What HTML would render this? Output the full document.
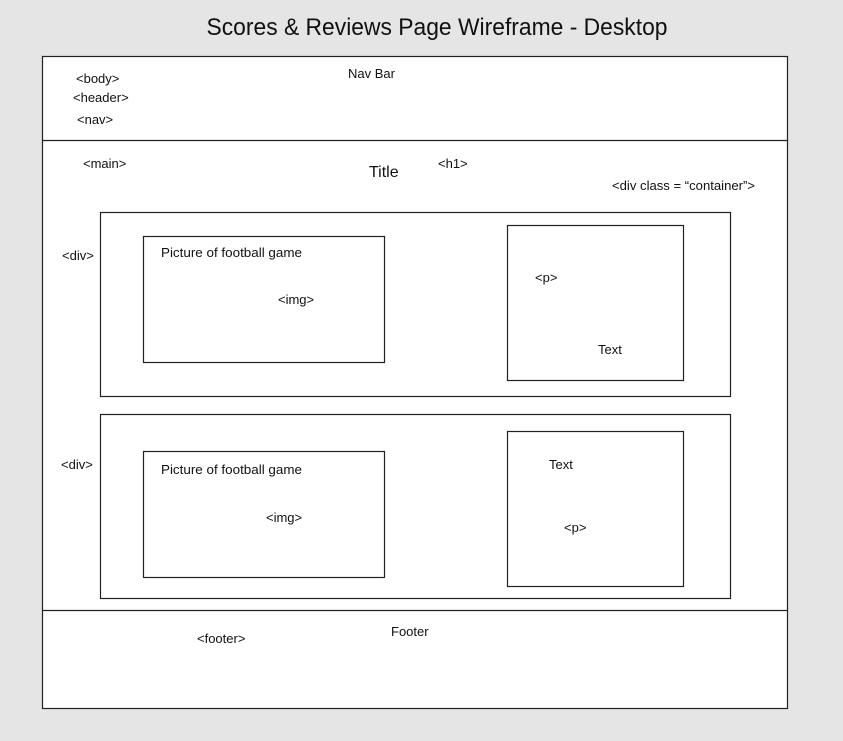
<!DOCTYPE html>
<html><head><meta charset="utf-8"><style>
html,body{margin:0;padding:0;background:#e5e5e5;}
svg{display:block;}
text{font-family:"Liberation Sans",Arial,sans-serif;fill:#111;}
</style></head><body>
<svg width="843" height="741" viewBox="0 0 843 741" xmlns="http://www.w3.org/2000/svg">
<rect x="0" y="0" width="843" height="741" fill="#e5e5e5"/>
<text x="437" y="35" font-size="24" text-anchor="middle" textLength="461" lengthAdjust="spacingAndGlyphs">Scores &amp; Reviews Page Wireframe - Desktop</text>
<rect x="42.5" y="56.5" width="745" height="652" fill="#fff" stroke="#222" stroke-width="1.2"/>
<line x1="42" y1="140.5" x2="788" y2="140.5" stroke="#222" stroke-width="1.2"/>
<line x1="42" y1="610.5" x2="788" y2="610.5" stroke="#222" stroke-width="1.2"/>
<g fill="none" stroke="#222" stroke-width="1.2">
<rect x="100.5" y="212.5" width="630" height="184"/>
<rect x="143.5" y="236.5" width="241" height="126"/>
<rect x="507.5" y="225.5" width="176" height="155"/>
<rect x="100.5" y="414.5" width="630" height="184"/>
<rect x="143.5" y="451.5" width="241" height="126"/>
<rect x="507.5" y="431.5" width="176" height="155"/>
</g>
<g font-size="13">
<text x="76" y="83">&lt;body&gt;</text>
<text x="73" y="102">&lt;header&gt;</text>
<text x="77" y="124">&lt;nav&gt;</text>
<text x="348" y="78">Nav Bar</text>
<text x="83" y="168">&lt;main&gt;</text>
<text x="438" y="168">&lt;h1&gt;</text>
<text x="369" y="177" font-size="16">Title</text>
<text x="612" y="190" textLength="143" lengthAdjust="spacingAndGlyphs">&lt;div class = “container”&gt;</text>
<text x="62" y="260">&lt;div&gt;</text>
<text x="161" y="257" textLength="141" lengthAdjust="spacingAndGlyphs">Picture of football game</text>
<text x="278" y="304">&lt;img&gt;</text>
<text x="535" y="282">&lt;p&gt;</text>
<text x="598" y="354">Text</text>
<text x="61" y="469">&lt;div&gt;</text>
<text x="161" y="474" textLength="141" lengthAdjust="spacingAndGlyphs">Picture of football game</text>
<text x="266" y="522">&lt;img&gt;</text>
<text x="549" y="469">Text</text>
<text x="564" y="532">&lt;p&gt;</text>
<text x="391" y="636">Footer</text>
<text x="197" y="643">&lt;footer&gt;</text>
</g>
</svg>
</body></html>
